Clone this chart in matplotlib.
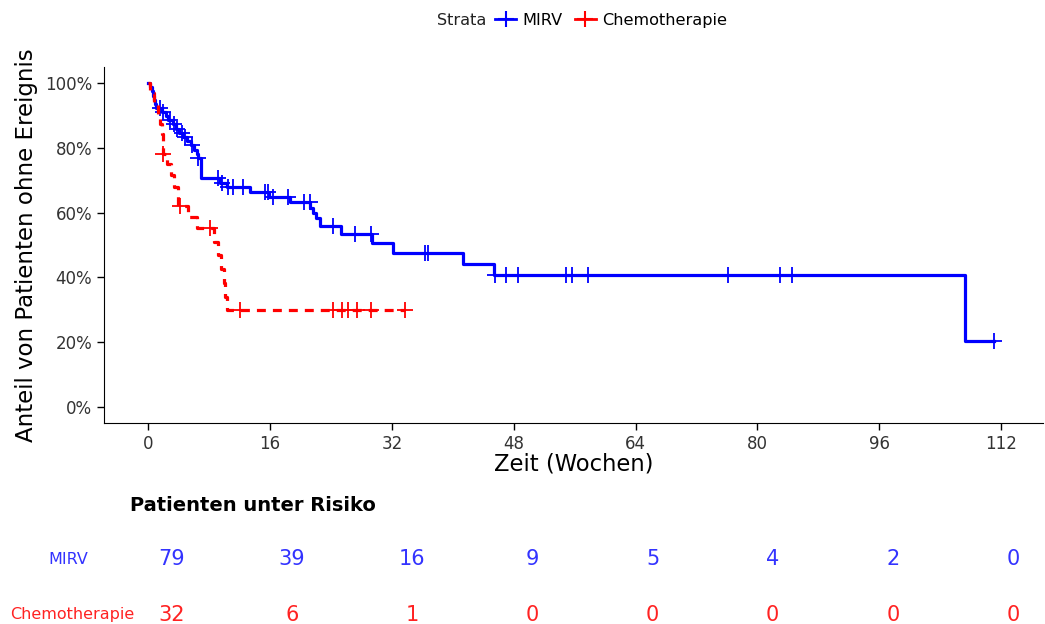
import numpy as np
import matplotlib
matplotlib.use("Agg")
import matplotlib.pyplot as plt
from matplotlib.lines import Line2D

# Kaplan-Meier steps (weeks, % without event) and censoring times
mirv_times = [0, 0.3, 0.5, 0.7, 0.8, 0.9, 1.0, 1.8, 2.3, 2.6, 3.2, 3.6, 4.1, 4.6, 5.1,
              5.6, 6.0, 6.4, 6.6, 7.0, 9.4, 10.3, 13.4, 15.9, 18.6, 21.3, 21.6, 22.0,
              22.6, 25.3, 29.4, 32.2, 41.4, 45.4, 107.3]
mirv_surv = [100, 98.7, 97.5, 96.2, 94.9, 93.7, 92.4, 91.1, 89.9, 88.6, 87.3, 86.0, 84.7,
             83.4, 82.1, 80.8, 79.5, 78.2, 76.9, 70.6, 69.2, 67.9, 66.4, 64.9, 63.3, 61.6,
             59.9, 58.3, 56.0, 53.3, 50.6, 47.4, 44.3, 40.9, 20.4]
mirv_censor = [1.5, 2.0, 2.9, 3.4, 3.8, 4.4, 4.8, 5.7, 6.6, 9.2, 9.7, 10.5, 11.2, 12.4,
               15.3, 15.8, 16.4, 18.4, 20.4, 21.2, 24.3, 27.1, 29.3, 36.3, 36.8, 45.6,
               47.0, 48.6, 54.9, 55.7, 57.7, 76.1, 82.9, 84.6, 111.1]

chemo_times = [0, 0.3, 0.8, 1.3, 1.6, 1.8, 1.9, 2.0, 2.5, 3.0, 3.4, 3.9, 5.2, 6.4,
               8.7, 9.2, 9.6, 9.9, 10.1, 10.4]
chemo_surv = [100, 96.9, 93.8, 90.6, 87.5, 84.4, 81.3, 78.1, 75.0, 71.5, 68.0, 62.0,
              58.6, 55.2, 51.0, 46.8, 42.5, 38.3, 34.0, 29.8]
chemo_censor = [2.0, 4.2, 8.1, 12.1, 24.3, 25.4, 26.3, 27.4, 29.3, 33.7]

risk_times = [0, 16, 32, 48, 64, 80, 96, 112]
mirv_risk = [79, 39, 16, 9, 5, 4, 2, 0]
chemo_risk = [32, 6, 1, 0, 0, 0, 0, 0]

fig = plt.figure(figsize=(10.45, 6.24), dpi=100)
ax = fig.add_axes((0.0995, 0.322, 0.8986, 0.5705))


def km_curve(times, surv, censor, color, ls):
    times = np.asarray(times, float)
    surv = np.asarray(surv, float)
    end = max(times[-1], max(censor))
    xs = np.append(times, end)
    ys = np.append(surv, surv[-1])
    ax.step(xs, ys, where="post", color=color, lw=2.3, linestyle=ls)
    idx = np.searchsorted(times, censor, side="right") - 1
    ax.plot(censor, surv[idx], linestyle="none", marker="+", color=color,
            markersize=11, mew=1.3)


km_curve(mirv_times, mirv_surv, mirv_censor, "blue", "-")
km_curve(chemo_times, chemo_surv, chemo_censor, "red", (0, (2.8, 2.2)))

ax.set_xlim(-5.8, 117.5)
ax.set_ylim(-5, 105)
ax.set_xticks(risk_times)
ax.set_yticks([0, 20, 40, 60, 80, 100])
ax.set_yticklabels(["%d%%" % v for v in [0, 20, 40, 60, 80, 100]])
for s in ("top", "right"):
    ax.spines[s].set_visible(False)
ax.tick_params(labelsize=12, colors="#333333", length=5, width=1)
ax.tick_params(axis="both", color="black")
ax.set_xlabel("Zeit (Wochen)", fontsize=16.3, labelpad=0)
ax.set_ylabel("Anteil von Patienten ohne Ereignis", fontsize=16.5, labelpad=5)

# legend along the top
fig.text(0.418, 0.967, "Strata", fontsize=11.6, va="center", color="#222222")
handles = [Line2D([], [], color="blue", lw=2, marker="+", markersize=11, mew=1.5),
           Line2D([], [], color="red", lw=2, marker="+", markersize=11, mew=1.5)]
fig.legend(handles, ["MIRV", "Chemotherapie"], loc="center left", ncol=2,
           bbox_to_anchor=(0.474, 0.967), frameon=False, fontsize=11.6,
           handlelength=1.3, handletextpad=0.4, columnspacing=0.75, borderpad=0,
           borderaxespad=0)

# number at risk table
tab = fig.add_axes((0.0995, 0.0, 0.8986, 0.16))
tab.set_xlim(-9.06, 116.0)
tab.set_ylim(0, 1)
tab.axis("off")
fig.text(0.124, 0.19, "Patienten unter Risiko", fontsize=14, fontweight="bold",
         va="center")
fig.text(0.065, 0.104, "MIRV", fontsize=11.5, color="#3333ff", ha="center", va="center")
fig.text(0.0695, 0.015, "Chemotherapie", fontsize=11.5, color="#ff2222", ha="center",
         va="center")
for t, m, c in zip(risk_times, mirv_risk, chemo_risk):
    tab.text(t, 0.65, str(m), color="#3333ff", fontsize=15, ha="center", va="center")
    tab.text(t, 0.09, str(c), color="#ff2222", fontsize=15, ha="center", va="center")

fig.savefig("out.png", dpi=100)
